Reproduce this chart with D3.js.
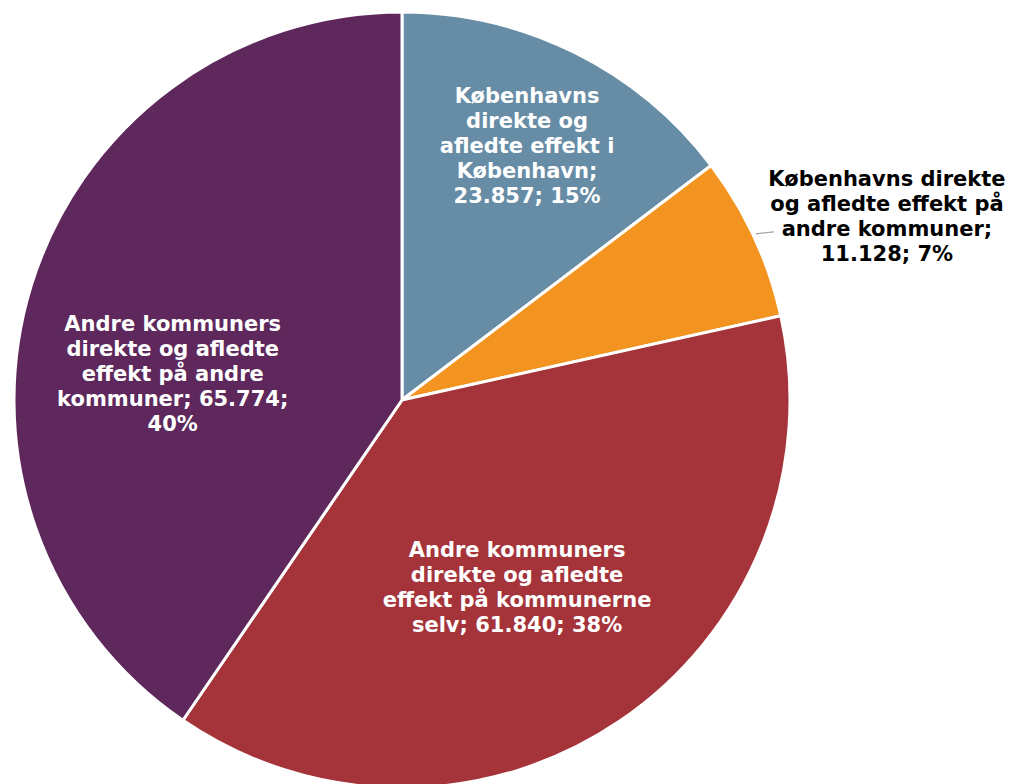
<!DOCTYPE html>
<html><head><meta charset="utf-8">
<script src="https://cdn.jsdelivr.net/npm/d3@7"></script>
<style>html,body{margin:0;padding:0;background:#fff;overflow:hidden}</style>
</head><body>
<svg id="chart" width="1011" height="784"></svg>
<script>
const categories = [
  "Københavns direkte og afledte effekt i København",
  "Københavns direkte og afledte effekt på andre kommuner",
  "Andre kommuners direkte og afledte effekt på kommunerne selv",
  "Andre kommuners direkte og afledte effekt på andre kommuner"
];
const values = [23857, 11128, 61840, 65774];
const colors = ["#668ca6", "#f39320", "#a5343a", "#5e285d"];

// label layout (polar: angle in degrees clockwise from top, radius fraction) and wrap widths
const labelAngle = [26.2, 69.2, 148.4, 276.7];
const labelRadius = [0.73, 1.337, 0.566, 0.595];
const labelWrap = [182, 242, 280, 236];
const labelFill = ["#fff", "#000", "#fff", "#fff"];

const svg = d3.select("#chart");
const cx = 402, cy = 400, R = 388;
const total = d3.sum(values);
const loc = d3.formatLocale({decimal: ",", thousands: ".", grouping: [3], currency: ["", " kr."]});
const fmt = loc.format(",d");

const pie = d3.pie().sort(null).value(d => d)(values);
const arc = d3.arc().innerRadius(0).outerRadius(R);
const g = svg.append("g").attr("transform", `translate(${cx},${cy})`);

g.selectAll("path").data(pie).join("path")
  .attr("d", arc)
  .attr("fill", (d, i) => colors[i])
  .attr("stroke", "#fff")
  .attr("stroke-width", 3)
  .attr("stroke-linejoin", "round");

// leader line for orange slice
{
  const d = pie[1];
  const a = (d.startAngle + d.endAngle) / 2 - 0.005;
  const r0 = R + 3;
  const x0 = r0 * Math.sin(a), y0 = -r0 * Math.cos(a);
  g.append("line")
    .attr("x1", x0).attr("y1", y0)
    .attr("x2", x0 + 18).attr("y2", y0 - 2)
    .attr("stroke", "#a6a6a6").attr("stroke-width", 1.3);
}

const fontSize = 21, lineH = 25;
pie.forEach((d, i) => {
  const pct = Math.round(values[i] / total * 100);
  const full = `${categories[i]}; ${fmt(values[i])}; ${pct}%`;
  const words = full.split(" ");
  const ang = labelAngle[i] * Math.PI / 180;
  const lx = labelRadius[i] * R * Math.sin(ang);
  const ly = -labelRadius[i] * R * Math.cos(ang);
  const t = g.append("text")
    .attr("text-anchor", "middle")
    .attr("font-family", "DejaVu Sans, Verdana, sans-serif")
    .attr("font-weight", "bold")
    .attr("font-size", fontSize)
    .attr("fill", labelFill[i]);
  const lines = [];
  let cur = "";
  const probe = t.append("tspan");
  words.forEach(w => {
    const test = cur ? cur + " " + w : w;
    probe.text(test);
    if (probe.node().getComputedTextLength() > labelWrap[i] && cur) {
      lines.push(cur); cur = w;
    } else cur = test;
  });
  lines.push(cur);
  probe.remove();
  const y0 = ly - (lines.length - 1) * lineH / 2 + fontSize * 0.36;
  lines.forEach((ln, k) => {
    t.append("tspan").attr("x", lx).attr("y", y0 + k * lineH).text(ln);
  });
});
</script>
</body></html>
